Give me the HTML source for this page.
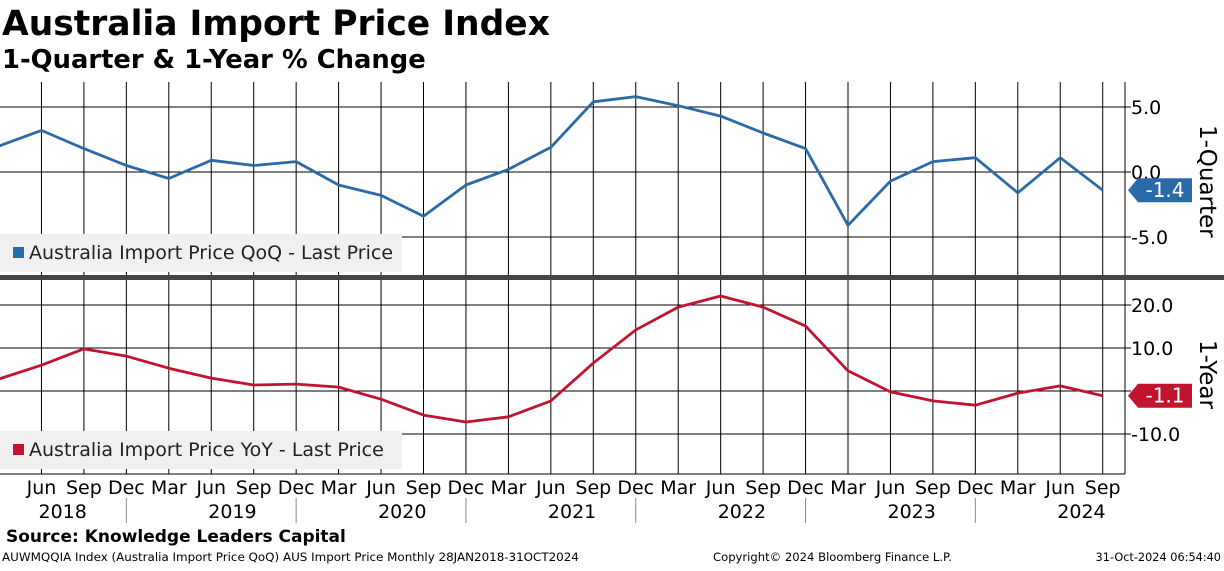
<!DOCTYPE html>
<html><head><meta charset="utf-8"><style>
body{margin:0;background:#fff;width:1224px;height:566px;overflow:hidden;font-family:"Liberation Sans","DejaVu Sans",sans-serif}
svg text{font-family:"DejaVu Sans","Liberation Sans",sans-serif}
</style></head><body>
<svg id="c" width="1224" height="566" xmlns="http://www.w3.org/2000/svg">
<text x="2" y="35" font-size="34.5" font-weight="bold" fill="#000">Australia Import Price Index</text>
<text x="2" y="68" font-size="25.8" font-weight="bold" fill="#000">1-Quarter &amp; 1-Year % Change</text>
<g id="grid"></g>
<g id="marks"></g>
<rect x="0" y="275" width="1224" height="5" fill="#444"/>
<text x="6" y="542" font-size="17" font-weight="bold">Source: Knowledge Leaders Capital</text>
<text x="2" y="561" font-size="11.9">AUWMQQIA Index (Australia Import Price QoQ) AUS Import Price  Monthly 28JAN2018-31OCT2024</text>
<text x="713" y="561" font-size="11.6">Copyright© 2024 Bloomberg Finance L.P.</text>
<text x="1221" y="561" font-size="11.3" text-anchor="end">31-Oct-2024 06:54:40</text>
</svg>
<script>
const quarters=["Mar","Jun","Sep","Dec","Mar","Jun","Sep","Dec","Mar","Jun","Sep","Dec","Mar","Jun","Sep","Dec","Mar","Jun","Sep","Dec","Mar","Jun","Sep","Dec","Mar","Jun","Sep"];
const years=["2018","2019","2020","2021","2022","2023","2024"];
const qoq=[2.0,3.2,1.8,0.5,-0.5,0.9,0.5,0.8,-1.0,-1.8,-3.4,-1.0,0.2,1.9,5.4,5.8,5.1,4.3,3.0,1.8,-4.1,-0.7,0.8,1.1,-1.6,1.1,-1.4];
const yoy=[2.8,6.0,9.8,8.1,5.3,3.0,1.4,1.6,0.9,-1.9,-5.6,-7.2,-6.0,-2.3,6.5,14.2,19.5,22.1,19.5,15.1,4.7,-0.2,-2.3,-3.3,-0.5,1.2,-1.1];
const topTicks=[5,0,-5];
const botTicks=[20,10,0,-10];
const topLabels=["5.0","0.0","-5.0"];
const botLabels=["20.0","10.0","","-10.0"];
const NS="http://www.w3.org/2000/svg";
const X=i=>-1+i*42.45;
const YT=v=>172-v*13;
const YB=v=>391-v*4.3;
const grid=document.getElementById('grid'),marks=document.getElementById('marks');
function el(t,a,p){const e=document.createElementNS(NS,t);for(const k in a)e.setAttribute(k,a[k]);(p||grid).appendChild(e);return e;}
const R=1125;
for(let i=1;i<quarters.length;i++){
 const l=el('line',{x1:X(i),x2:X(i),y1:82,y2:474,stroke:'#000','stroke-width':1});
 
 
 const t=el('text',{x:X(i),y:494,'font-size':19,'text-anchor':'middle'});t.textContent=quarters[i];
 
 
}
years.forEach((y,k)=>{
 const c=X(k*4+1.5);
 const t=el('text',{x:c,y:518,'font-size':19,'text-anchor':'middle'});t.textContent=y;
 
 
 if(k>0){const s=el('line',{x1:X(k*4-1),x2:X(k*4-1),y1:498,y2:523,stroke:'#888'});
 
 }
});
el('line',{x1:R,x2:R,y1:82,y2:474,stroke:'#000'});
el('line',{x1:0,x2:R,y1:474,y2:474,stroke:'#000'});
topTicks.forEach((v,i)=>{
 const g=el('line',{x1:0,x2:R+6,y1:YT(v),y2:YT(v),stroke:'#000'});
 
 
 const t=el('text',{x:R+6,y:YT(v)+7,'font-size':19});t.textContent=topLabels[i];
 
 
});
botTicks.forEach((v,i)=>{
 const g=el('line',{x1:0,x2:R+6,y1:YB(v),y2:YB(v),stroke:'#000'});
 
 
 const t=el('text',{x:R+6,y:YB(v)+7,'font-size':19});t.textContent=botLabels[i];
 
 
});
const a1=el('text',{x:0,y:0,'font-size':23,transform:'translate(1200,125) rotate(90)'});a1.textContent='1-Quarter';


const a2=el('text',{x:0,y:0,'font-size':23,transform:'translate(1200,340) rotate(90)'});a2.textContent='1-Year';


function legend(y,col,txt,name){
 const r=el('rect',{x:0,y:y,width:402,height:38,fill:'#f0f0f0'},marks);
 
 
 el('rect',{x:13,y:y+13,width:11,height:11,fill:col},marks);
 const t=el('text',{x:29,y:y+25,'font-size':19,fill:'#222'},marks);t.textContent=txt;
 
 
}
legend(234,'#2a6aa8','Australia Import Price QoQ - Last Price','legend-qoq');
legend(431,'#c0142f','Australia Import Price YoY - Last Price','legend-yoy');
function series(arr,Y,col,name){
 const p=el('polyline',{points:arr.map((v,i)=>X(i)+','+Y(v)).join(' '),fill:'none',stroke:col,'stroke-width':2.8,'stroke-linejoin':'round'},marks);
 
 
 const v=arr[arr.length-1],y=Y(v);
 const tag=el('polygon',{points:`${R+3},${y} ${R+13},${y-12} ${R+67},${y-12} ${R+67},${y+12} ${R+13},${y+12}`,fill:col},marks);
 
 
 const t=el('text',{x:R+40,y:y+7,'font-size':20,fill:'#fff','text-anchor':'middle'},marks);t.textContent=v.toFixed(1);
 
 
}
series(qoq,YT,'#2a6aa8','qoq-line');
series(yoy,YB,'#c0142f','yoy-line');
</script>
</body></html>
